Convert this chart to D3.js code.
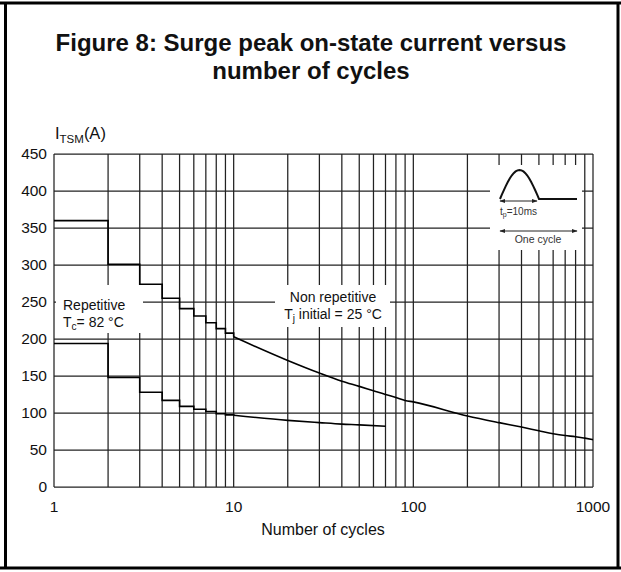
<!DOCTYPE html>
<html>
<head>
<meta charset="utf-8">
<script src="https://cdn.jsdelivr.net/npm/d3@7"></script>
<style>
body { margin: 0; background: #fff; }
svg { display: block; font-family: Arial, "Liberation Sans", sans-serif; }
</style>
</head>
<body>
<script>
/* chart data */
var gridCycles = [1, 2, 3, 4, 5, 6, 7, 8, 9, 10, 20, 30, 40, 50, 60, 70, 80, 90, 100,
                  200, 300, 400, 500, 600, 700, 800, 900, 1000]
var cycleLabels = [1, 10, 100, 1000]
var currentTicks = [0, 50, 100, 150, 200, 250, 300, 350, 400, 450]

// staircase part (one step per cycle) then the smooth part
var stepCycles = [1, 2, 3, 4, 5, 6, 7, 8, 9, 10]
var nonRepStep = [360, 301, 274, 255, 241, 231, 222, 214, 208, 203]
var repStep = [194, 148, 128, 117, 109, 105, 102, 99, 97.5, 97]

var nonRepCycles = [10, 20, 30, 40, 50, 60, 70, 80, 90, 100, 200, 300, 400, 500, 600, 700, 800, 900, 1000]
var nonRepCurve = [203, 171, 154, 143, 136, 130, 125, 121, 117, 115, 96, 87, 81, 76, 72, 69.5, 68, 66, 64]
var repCycles = [10, 20, 30, 40, 50, 70]
var repCurve = [97, 90, 87, 85, 84, 82]

function Visualization() {
    this.width = 621
    this.height = 572
    this.plot = { left: 54, right: 593, top: 154, bottom: 487 }
    this.ink = "#111"
    this.grid = "#222"
}

var vis = new Visualization()
main(vis)

function main(vis)
{
    var svg = d3.select("body")
        .append("svg")
        .attr("width", vis.width)
        .attr("height", vis.height)

    svg.append("rect")
        .attr("width", vis.width)
        .attr("height", vis.height)
        .attr("fill", "#fff")

    var x = d3.scaleLog()
        .domain([1, 1000])
        .range([vis.plot.left, vis.plot.right])

    var y = d3.scaleLinear()
        .domain([0, 450])
        .range([vis.plot.bottom, vis.plot.top])

    /* frame around the figure */
    var frame = svg.append("g")
        .attr("stroke", "#000")
        .attr("stroke-width", 3)
    frame.append("line").attr("x1", 0).attr("x2", vis.width).attr("y1", 3).attr("y2", 3)
    frame.append("line").attr("x1", 0).attr("x2", vis.width).attr("y1", 568).attr("y2", 568)
    frame.append("line").attr("x1", 5.5).attr("x2", 5.5).attr("y1", 3).attr("y2", 568)
    frame.append("line").attr("x1", 618).attr("x2", 618).attr("y1", 3).attr("y2", 568)

    /* title */
    var title = svg.append("text")
        .attr("text-anchor", "middle")
        .attr("font-size", "24px")
        .attr("font-weight", "bold")
        .attr("fill", "#111")
    title.append("tspan").attr("x", 311).attr("y", 51).text("Figure 8: Surge peak on-state current versus")
    title.append("tspan").attr("x", 311).attr("y", 79).text("number of cycles")

    /* grid */
    var grid = svg.append("g")
        .attr("stroke", vis.grid)
        .attr("stroke-width", 1.25)

    grid.selectAll("line.v")
        .data(gridCycles)
        .enter()
        .append("line")
        .attr("class", "v")
        .attr("x1", function(d) { return x(d) })
        .attr("x2", function(d) { return x(d) })
        .attr("y1", vis.plot.top)
        .attr("y2", vis.plot.bottom)

    grid.selectAll("line.h")
        .data(currentTicks)
        .enter()
        .append("line")
        .attr("class", "h")
        .attr("x1", vis.plot.left)
        .attr("x2", vis.plot.right)
        .attr("y1", function(d) { return y(d) })
        .attr("y2", function(d) { return y(d) })

    /* y tick labels */
    svg.selectAll("text.ytick")
        .data(currentTicks)
        .enter()
        .append("text")
        .attr("class", "ytick")
        .attr("text-anchor", "end")
        .attr("x", 47)
        .attr("y", function(d) { return y(d) + 4.5 })
        .attr("font-size", "15.5px")
        .attr("fill", vis.ink)
        .text(function(d) { return d })

    /* x tick labels */
    svg.selectAll("text.xtick")
        .data(cycleLabels)
        .enter()
        .append("text")
        .attr("class", "xtick")
        .attr("text-anchor", "middle")
        .attr("x", function(d) { return x(d) })
        .attr("y", 512)
        .attr("font-size", "15.5px")
        .attr("fill", vis.ink)
        .text(function(d) { return d })

    svg.append("text")
        .attr("text-anchor", "middle")
        .attr("x", 323)
        .attr("y", 535)
        .attr("font-size", "16px")
        .attr("fill", vis.ink)
        .text("Number of cycles")

    /* y axis title I_TSM(A) */
    var ylab = svg.append("text")
        .attr("x", 55)
        .attr("y", 139)
        .attr("font-size", "16.5px")
        .attr("fill", vis.ink)
    ylab.append("tspan").text("I")
    ylab.append("tspan").attr("font-size", "11.5px").attr("dy", 3.5).text("TSM")
    ylab.append("tspan").attr("dy", -3.5).text("(A)")

    /* white label boxes that cut the grid */
    var boxes = [[56, 285, 87, 48], [275, 285, 115, 42], [490, 165, 92, 85]]
    svg.selectAll("rect.box")
        .data(boxes)
        .enter()
        .append("rect")
        .attr("class", "box")
        .attr("x", function(d) { return d[0] })
        .attr("y", function(d) { return d[1] })
        .attr("width", function(d) { return d[2] })
        .attr("height", function(d) { return d[3] })
        .attr("fill", "#fff")

    /* curves */
    var stepLine = d3.line()
        .x(function(d) { return x(d[0]) })
        .y(function(d) { return y(d[1]) })
        .curve(d3.curveStepAfter)

    var smoothLine = d3.line()
        .x(function(d) { return x(d[0]) })
        .y(function(d) { return y(d[1]) })
        .curve(d3.curveMonotoneX)

    var series = [
        [stepCycles, nonRepStep, stepLine],
        [stepCycles, repStep, stepLine],
        [nonRepCycles, nonRepCurve, smoothLine],
        [repCycles, repCurve, smoothLine]
    ]
    series.forEach(function(s) {
        svg.append("path")
            .datum(d3.zip(s[0], s[1]))
            .attr("d", s[2])
            .attr("fill", "none")
            .attr("stroke", "#000")
            .attr("stroke-width", 1.6)
    })

    /* curve labels */
    var rep = svg.append("text")
        .attr("font-size", "14px")
        .attr("fill", vis.ink)
    rep.append("tspan").attr("x", 63).attr("y", 310).text("Repetitive")
    var rep2 = svg.append("text")
        .attr("x", 63)
        .attr("y", 327)
        .attr("font-size", "14px")
        .attr("fill", vis.ink)
    rep2.append("tspan").text("T")
    rep2.append("tspan").attr("font-size", "10px").attr("dy", 3).text("c")
    rep2.append("tspan").attr("dy", -3).text("= 82 °C")

    svg.append("text")
        .attr("text-anchor", "middle")
        .attr("x", 333)
        .attr("y", 302)
        .attr("font-size", "14px")
        .attr("fill", vis.ink)
        .text("Non repetitive")
    var nr2 = svg.append("text")
        .attr("text-anchor", "middle")
        .attr("x", 333)
        .attr("y", 319)
        .attr("font-size", "14px")
        .attr("fill", vis.ink)
    nr2.append("tspan").text("T")
    nr2.append("tspan").attr("font-size", "10px").attr("dy", 3).text("j")
    nr2.append("tspan").attr("dy", -3).text(" initial = 25 °C")

    /* inset: one half-sine pulse per cycle */
    var defs = svg.append("defs")
    defs.append("marker")
        .attr("id", "arrow")
        .attr("viewBox", "0 0 10 10")
        .attr("refX", 9).attr("refY", 5)
        .attr("markerWidth", 6).attr("markerHeight", 6)
        .attr("orient", "auto-start-reverse")
        .append("path")
        .attr("d", "M0,1.5 L10,5 L0,8.5 Z")
        .attr("fill", "#222")

    var pulse = d3.range(0, 21).map(function(i) {
        var t = i / 20
        return [500 + t * 39, 199 - 29 * Math.sin(Math.PI * t)]
    })
    pulse.push([577, 199])
    svg.append("path")
        .attr("d", d3.line()(pulse))
        .attr("fill", "none")
        .attr("stroke", "#111")
        .attr("stroke-width", 2)

    svg.append("line")
        .attr("x1", 500).attr("x2", 537).attr("y1", 201).attr("y2", 201)
        .attr("stroke", "#222").attr("stroke-width", 1)
        .attr("marker-start", "url(#arrow)").attr("marker-end", "url(#arrow)")
    svg.append("line")
        .attr("x1", 500).attr("x2", 577).attr("y1", 231).attr("y2", 231)
        .attr("stroke", "#222").attr("stroke-width", 1)
        .attr("marker-start", "url(#arrow)").attr("marker-end", "url(#arrow)")

    var tp = svg.append("text")
        .attr("x", 500)
        .attr("y", 215)
        .attr("font-size", "10px")
        .attr("fill", "#333")
    tp.append("tspan").text("t")
    tp.append("tspan").attr("font-size", "7px").attr("dy", 2).text("p")
    tp.append("tspan").attr("dy", -2).text("=10ms")

    svg.append("text")
        .attr("text-anchor", "middle")
        .attr("x", 538)
        .attr("y", 243)
        .attr("font-size", "10.5px")
        .attr("fill", "#333")
        .text("One cycle")
}
</script>
</body>
</html>
